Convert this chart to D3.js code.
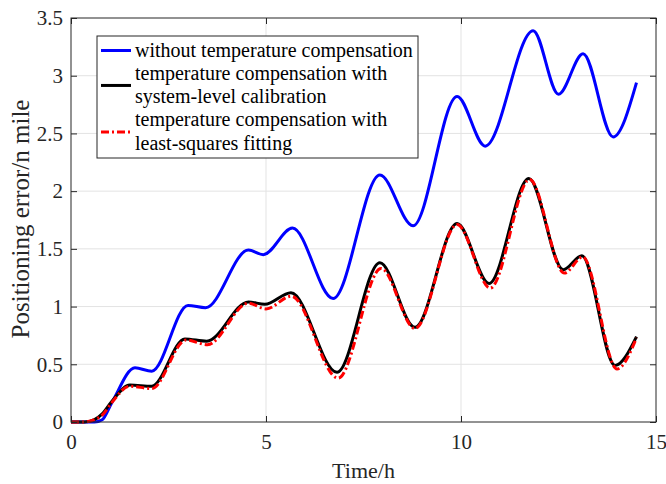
<!DOCTYPE html>
<html>
<head>
<meta charset="utf-8">
<script src="https://cdn.jsdelivr.net/npm/d3@7"></script>
<style>
  html, body { margin: 0; padding: 0; background: #fff; }
  svg { display: block; font-family: "Liberation Serif", "Times New Roman", serif; }
</style>
</head>
<body>
<div id="chart"></div>
<script>
(function () {
  'use strict';

  // time (h) and positioning error (n mile)
  const blueT = [0, 0.6, 0.8, 1.05, 1.64, 2.07, 3.0, 3.45, 4.55, 4.93, 5.68, 6.72, 7.92, 8.77, 9.9, 10.62, 11.85, 12.5, 13.13, 13.9, 14.5];
  const blueV = [0, 0, 0.02, 0.17, 0.47, 0.44, 1.01, 0.99, 1.49, 1.45, 1.68, 1.07, 2.14, 1.70, 2.82, 2.39, 3.39, 2.84, 3.19, 2.47, 2.94];

  const blackT = [0, 0.35, 0.6, 0.8, 1.05, 1.51, 2.07, 2.92, 3.48, 4.55, 4.97, 5.64, 6.82, 7.92, 8.82, 9.9, 10.72, 11.74, 12.62, 13.1, 13.95, 14.5];
  const blackV = [0, 0, 0.02, 0.07, 0.18, 0.32, 0.31, 0.72, 0.70, 1.04, 1.02, 1.12, 0.43, 1.38, 0.82, 1.72, 1.20, 2.11, 1.32, 1.44, 0.49, 0.74];

  const redT = [0, 0.35, 0.6, 0.8, 1.05, 1.5, 2.07, 2.95, 3.5, 4.55, 5.0, 5.65, 6.85, 7.95, 8.82, 9.9, 10.75, 11.76, 12.65, 13.12, 14.0, 14.5];
  const redV = [0, 0, 0.02, 0.06, 0.17, 0.31, 0.29, 0.71, 0.67, 1.03, 0.98, 1.09, 0.38, 1.33, 0.81, 1.71, 1.16, 2.10, 1.29, 1.43, 0.46, 0.73];

  const xTicks = [0, 5, 10, 15];
  const yTicks = [0, 0.5, 1, 1.5, 2, 2.5, 3, 3.5];

  const legendLabels = [
    ['without temperature compensation'],
    ['temperature compensation with', 'system-level calibration'],
    ['temperature compensation with', 'least-squares fitting']
  ];

  const W = 666, H = 484;
  const m = { left: 71, right: 10, top: 18, bottom: 62 };
  const axisColor = '#262626';

  const x = d3.scaleLinear().domain([0, 15]).range([m.left, W - m.right]);
  const y = d3.scaleLinear().domain([0, 3.5]).range([H - m.bottom, m.top]);

  const svg = d3.select('#chart').append('svg')
    .attr('width', W).attr('height', H);

  svg.append('rect').attr('width', W).attr('height', H).attr('fill', '#fff');

  // grid
  const grid = svg.append('g').attr('stroke', '#e3e3e3').attr('stroke-width', 1);
  grid.selectAll('.gx').data(xTicks.slice(1, -1)).join('line')
    .attr('x1', d => x(d)).attr('x2', d => x(d))
    .attr('y1', y(0)).attr('y2', y(3.5));
  grid.selectAll('.gy').data(yTicks.slice(1, -1)).join('line')
    .attr('y1', d => y(d)).attr('y2', d => y(d))
    .attr('x1', x(0)).attr('x2', x(15));

  // series
  const line = d3.line().x(d => x(d[0])).y(d => y(d[1])).curve(d3.curveMonotoneX);
  const zip = (t, v) => t.map((d, i) => [d, v[i]]);

  const series = [
    { data: zip(blueT, blueV), color: '#0000ff', dash: null },
    { data: zip(blackT, blackV), color: '#000000', dash: null },
    { data: zip(redT, redV), color: '#ff0000', dash: '8,3,2,3' }
  ];

  const plot = svg.append('g');
  series.forEach(s => {
    plot.append('path')
      .datum(s.data)
      .attr('d', line)
      .attr('fill', 'none')
      .attr('stroke', s.color)
      .attr('stroke-width', 3)
      .attr('stroke-dasharray', s.dash);
  });

  // axes (MATLAB box style, ticks inside)
  const tickLen = 6;
  svg.append('g')
    .attr('transform', `translate(0,${y(0)})`)
    .call(d3.axisBottom(x).tickValues(xTicks).tickSizeInner(-tickLen).tickSizeOuter(0).tickPadding(12).tickFormat(d3.format('d')))
    .call(g => g.select('.domain').remove());
  svg.append('g')
    .attr('transform', `translate(0,${y(3.5)})`)
    .call(d3.axisTop(x).tickValues(xTicks).tickSizeInner(-tickLen).tickSizeOuter(0).tickFormat(''))
    .call(g => g.select('.domain').remove());
  svg.append('g')
    .attr('transform', `translate(${x(0)},0)`)
    .call(d3.axisLeft(y).tickValues(yTicks).tickSizeInner(-tickLen).tickSizeOuter(0).tickPadding(8).tickFormat(d => d3.format('')(d)))
    .call(g => g.select('.domain').remove());
  svg.append('g')
    .attr('transform', `translate(${x(15)},0)`)
    .call(d3.axisRight(y).tickValues(yTicks).tickSizeInner(-tickLen).tickSizeOuter(0).tickFormat(''))
    .call(g => g.select('.domain').remove());

  svg.selectAll('.tick line').attr('stroke', axisColor);
  svg.selectAll('.tick text')
    .attr('fill', axisColor)
    .style('font-family', '"Liberation Serif", serif')
    .style('font-size', '21px');

  svg.append('rect')
    .attr('x', x(0)).attr('y', y(3.5))
    .attr('width', x(15) - x(0)).attr('height', y(0) - y(3.5))
    .attr('fill', 'none').attr('stroke', axisColor).attr('stroke-width', 1);

  // axis titles
  svg.append('text')
    .attr('x', (x(0) + x(15)) / 2).attr('y', 478)
    .attr('text-anchor', 'middle')
    .attr('fill', axisColor)
    .style('font-size', '22px')
    .text('Time/h');

  svg.append('text')
    .attr('transform', `translate(29,${(y(0) + y(3.5)) / 2 - 1}) rotate(-90)`)
    .attr('text-anchor', 'middle')
    .attr('fill', axisColor)
    .style('font-size', '25px')
    .text('Positioning error/n mile');

  // legend
  const leg = svg.append('g');
  leg.append('rect')
    .attr('x', 97).attr('y', 36).attr('width', 321).attr('height', 122)
    .attr('fill', '#fff').attr('stroke', axisColor).attr('stroke-width', 1);

  const rowH = 23.3;
  const base0 = 56.5;
  let row = 0;
  legendLabels.forEach((lines, i) => {
    const s = series[i];
    const cy = base0 - 6 + row * rowH + (lines.length - 1) * rowH / 2;
    leg.append('line')
      .attr('x1', 101).attr('x2', 131).attr('y1', cy).attr('y2', cy)
      .attr('stroke', s.color).attr('stroke-width', 3)
      .attr('stroke-dasharray', s.dash);
    lines.forEach((t, j) => {
      leg.append('text')
        .attr('x', 135).attr('y', base0 + (row + j) * rowH)
        .attr('fill', '#000')
        .style('font-size', '20px')
        .text(t);
    });
    row += lines.length;
  });
})();
</script>
</body>
</html>
